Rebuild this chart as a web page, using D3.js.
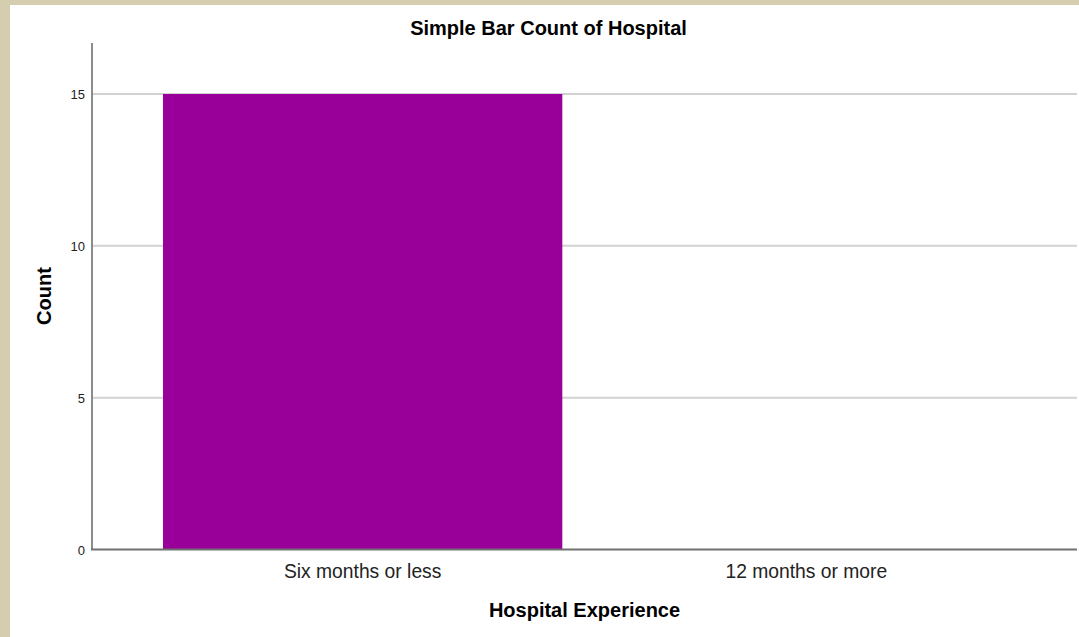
<!DOCTYPE html>
<html lang="en">
<head>
  <meta charset="UTF-8">
  <title>Simple Bar Count of Hospital</title>
  <script src="https://d3js.org/d3.v7.min.js"></script>
  <style>
    body {
      margin: 0;
      background-color: #d5cdb0;
    }

    svg {
      display: block;
      font-family: "Liberation Sans", Arial, sans-serif;
    }

    .tick-label {
      font-size: 13px;
      fill: #222;
    }

    .cat-label {
      font-size: 19.3px;
      fill: #222;
    }

    .axis-title {
      font-size: 20px;
      font-weight: bold;
      fill: #000;
    }
  </style>
</head>
<body>

<script>
  const categories = ["Six months or less", "12 months or more"];
  const counts = [15, 0];
  const yTicks = [0, 5, 10, 15];

  const width = 1079;
  const height = 637;

  const svg = d3.select("body").append("svg")
    .attr("width", width)
    .attr("height", height);

  // white chart panel inside the beige frame
  svg.append("rect")
    .attr("x", 10)
    .attr("y", 5)
    .attr("width", width - 10)
    .attr("height", height - 5)
    .attr("fill", "#fff");

  const plotLeft = 92, plotRight = 1077, plotBottom = 549.5, plotTop = 43;

  const x = d3.scaleBand()
    .domain(categories)
    .range([plotLeft, plotRight])
    .paddingInner(0.1)
    .paddingOuter(0.16);

  const y = d3.scaleLinear()
    .domain([0, 15])
    .range([plotBottom, 94]);

  // gridlines
  svg.selectAll(".grid")
    .data(yTicks.filter(d => d > 0))
    .enter().append("line")
    .attr("x1", plotLeft)
    .attr("x2", plotRight)
    .attr("y1", d => y(d))
    .attr("y2", d => y(d))
    .attr("stroke", "#d2d2d2")
    .attr("stroke-width", 2);

  // bars
  svg.selectAll(".bar")
    .data(categories.map((c, i) => ({ c, v: counts[i] })))
    .enter().append("rect")
    .attr("x", d => x(d.c))
    .attr("width", x.bandwidth())
    .attr("y", d => y(d.v))
    .attr("height", d => y(0) - y(d.v))
    .attr("fill", "#990099");

  // axis lines
  svg.append("line")
    .attr("x1", plotLeft).attr("x2", plotLeft)
    .attr("y1", plotTop).attr("y2", plotBottom)
    .attr("stroke", "#8c8c8c")
    .attr("stroke-width", 2);

  svg.append("line")
    .attr("x1", plotLeft - 1).attr("x2", plotRight)
    .attr("y1", plotBottom).attr("y2", plotBottom)
    .attr("stroke", "#707070")
    .attr("stroke-width", 2);

  // y tick labels
  svg.selectAll(".tick-label")
    .data(yTicks)
    .enter().append("text")
    .attr("class", "tick-label")
    .attr("x", plotLeft - 7)
    .attr("y", d => y(d) + 5)
    .attr("text-anchor", "end")
    .text(d => d);

  // category labels
  svg.selectAll(".cat-label")
    .data(categories)
    .enter().append("text")
    .attr("class", "cat-label")
    .attr("x", d => x(d) + x.bandwidth() / 2)
    .attr("y", 578)
    .attr("text-anchor", "middle")
    .text(d => d);

  // titles
  svg.append("text")
    .attr("class", "axis-title")
    .attr("x", 548.5)
    .attr("y", 35)
    .attr("text-anchor", "middle")
    .text("Simple Bar Count of Hospital");

  svg.append("text")
    .attr("class", "axis-title")
    .attr("x", (plotLeft + plotRight) / 2)
    .attr("y", 617)
    .attr("text-anchor", "middle")
    .text("Hospital Experience");

  svg.append("text")
    .attr("class", "axis-title")
    .attr("transform", "translate(51,296) rotate(-90)")
    .attr("text-anchor", "middle")
    .text("Count");
</script>

</body>
</html>
